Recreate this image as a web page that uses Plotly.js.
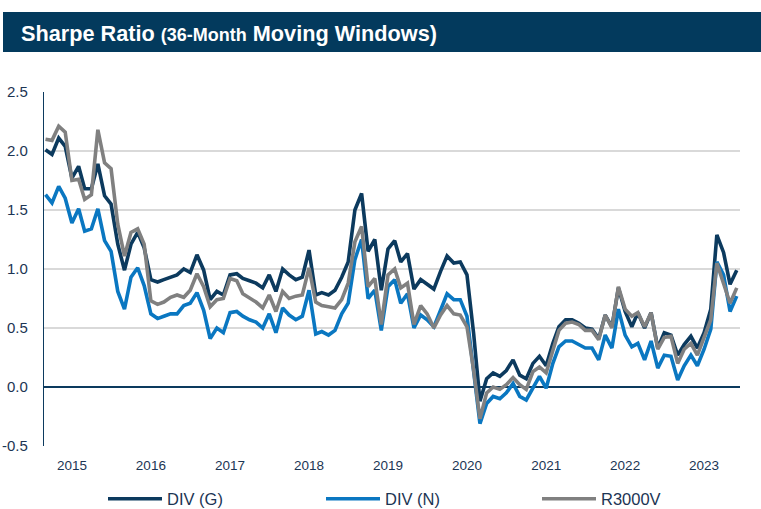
<!DOCTYPE html>
<html><head><meta charset="utf-8">
<script src="https://cdn.plot.ly/plotly-3.0.1.min.js"></script>
<style>html,body{margin:0;padding:0;background:#fff;}#chart{width:761px;height:509px;}</style>
</head><body><div id="chart"></div>
<script>
// Monthly observations, Sep 2014 – Jun 2023
const firstYear = 2014, firstMonth = 9;
const divG = [2.01,1.97,2.11,2.04,1.77,1.87,1.68,1.68,1.89,1.62,1.55,1.21,0.99,1.21,1.31,1.18,
  0.91,0.89,0.91,0.93,0.95,1.00,0.97,1.12,0.99,0.74,0.81,0.78,0.95,0.96,0.92,0.90,0.88,0.84,0.95,0.81,
  1.00,0.95,0.91,0.93,1.16,0.78,0.80,0.78,0.82,0.93,1.06,1.50,1.64,1.15,1.25,0.82,
  1.17,1.24,1.06,1.13,0.83,0.91,0.87,0.83,0.98,1.11,1.05,1.06,
  0.95,0.45,-0.12,0.07,0.12,0.09,0.14,0.23,0.10,0.07,0.20,0.26,
  0.18,0.37,0.51,0.57,0.57,0.54,0.50,0.49,0.41,0.61,0.51,0.84,
  0.64,0.51,0.63,0.50,0.63,0.33,0.46,0.44,0.27,0.36,0.43,0.33,
  0.46,0.66,1.29,1.14,0.87,0.99];
const divN = [1.63,1.56,1.70,1.60,1.39,1.51,1.32,1.34,1.51,1.24,1.15,0.81,0.66,0.93,1.01,0.86,
  0.62,0.58,0.60,0.62,0.62,0.69,0.71,0.80,0.65,0.41,0.50,0.46,0.63,0.64,0.60,0.57,0.55,0.50,0.62,0.46,
  0.67,0.61,0.57,0.60,0.82,0.45,0.47,0.44,0.48,0.62,0.71,1.08,1.25,0.75,0.82,0.48,
  0.85,0.91,0.71,0.79,0.50,0.61,0.57,0.51,0.65,0.79,0.74,0.74,
  0.60,0.15,-0.31,-0.14,-0.08,-0.10,-0.05,0.03,-0.08,-0.11,0.00,0.09,
  -0.01,0.20,0.34,0.39,0.39,0.36,0.33,0.33,0.23,0.44,0.33,0.66,
  0.44,0.34,0.37,0.23,0.39,0.16,0.27,0.26,0.06,0.18,0.27,0.18,
  0.32,0.49,1.06,0.95,0.64,0.77];
const r3000v = [2.10,2.09,2.21,2.16,1.75,1.76,1.59,1.63,2.18,1.90,1.85,1.38,1.11,1.31,1.34,1.21,
  0.73,0.70,0.72,0.76,0.78,0.76,0.82,0.96,0.85,0.68,0.74,0.75,0.92,0.90,0.79,0.75,0.72,0.67,0.78,0.64,
  0.81,0.75,0.77,0.78,1.01,0.72,0.69,0.68,0.67,0.74,0.88,1.23,1.36,0.85,0.92,0.53,
  0.95,1.00,0.84,0.88,0.53,0.69,0.62,0.50,0.61,0.69,0.62,0.61,
  0.51,0.14,-0.27,-0.05,0.00,-0.02,0.02,0.08,0.02,-0.02,0.13,0.17,
  0.12,0.31,0.48,0.54,0.55,0.53,0.48,0.48,0.40,0.61,0.50,0.85,
  0.66,0.60,0.63,0.51,0.63,0.32,0.42,0.43,0.20,0.32,0.37,0.27,
  0.42,0.57,1.05,0.88,0.71,0.84];
const seriesNames = ['DIV (G)','DIV (N)','R3000V'];
const yearLabels = ['2015','2016','2017','2018','2019','2020','2021','2022','2023'];
const yTicks = [-0.5,0,0.5,1,1.5,2,2.5];

function monthDates(n){
  const out=[]; let y=firstYear, m=firstMonth;
  for(let i=0;i<n;i++){ out.push(y+'-'+String(m).padStart(2,'0')+'-01'); m++; if(m>12){m=1;y++;} }
  return out;
}
const dates = monthDates(divG.length);

const W=761,H=509, L=44, R=21, T=92, B=63;
const pw=W-L-R, ph=H-T-B;
const px=x=>(x-L)/pw, py=y=>(H-B-y)/ph;
const FONT='"Liberation Sans", Arial, sans-serif';
const TXT='#1c3554';
const colors=['#0c3a5e','#0a77c1','#808080'];

const traces=[divG,divN,r3000v].map((v,k)=>({
  x:dates, y:v, type:'scatter', mode:'lines', name:seriesNames[k],
  line:{color:colors[k], width:3.6}, legend: k===0?'legend':('legend'+(k+1)),
  hoverinfo:'skip'
}));

function leg(x){return {x:x/W, y:1-499/H, xref:'container', yref:'container', xanchor:'left', yanchor:'middle',
  orientation:'h', font:{family:FONT,size:16.5,color:TXT}, bgcolor:'rgba(0,0,0,0)', itemwidth:54, borderwidth:0};}

const layout={
  width:W, height:H, margin:{l:L,r:R,t:T,b:B, autoexpand:false},
  paper_bgcolor:'#fff', plot_bgcolor:'#fff',
  font:{family:FONT, color:TXT},
  title:{text:"<b>Sharpe Ratio <span style='font-size:18px'>(36-Month</span> Moving Windows)</b>",
    font:{family:FONT,size:21.7,color:'#ffffff'}, x:21/W, xanchor:'left', xref:'container',
    y:1-33/H, yanchor:'middle', yref:'container'},
  shapes:[{type:'rect', xref:'paper', yref:'paper', x0:px(3), x1:px(761), y0:py(52), y1:py(12),
    fillcolor:'#033a5d', line:{width:0}, layer:'above'}],
  xaxis:{type:'date', range:['2014-08-25','2023-06-16'], showgrid:false, zeroline:false, showline:false,
    tickvals:yearLabels.map(y=>y+'-01-01'), ticktext:yearLabels, ticks:'',
    tickfont:{family:FONT,size:13.5,color:TXT}, ticklabelstandoff:9},
  yaxis:{range:[-0.5,2.5], tickvals:yTicks, ticktext:yTicks.map(v=>v.toFixed(1)), ticks:'',
    showgrid:true, gridcolor:'#d9d9d9', gridwidth:1.5,
    zeroline:true, zerolinecolor:'#0c3a5e', zerolinewidth:1.2,
    showline:true, linecolor:'#0c3a5e', linewidth:1.2,
    tickfont:{family:FONT,size:15,color:TXT}, ticklabelstandoff:12},
  legend:leg(103), legend2:leg(321), legend3:leg(537),
  showlegend:true
};
Plotly.newPlot('chart', traces, layout, {displayModeBar:false, staticPlot:true});
</script></body></html>
